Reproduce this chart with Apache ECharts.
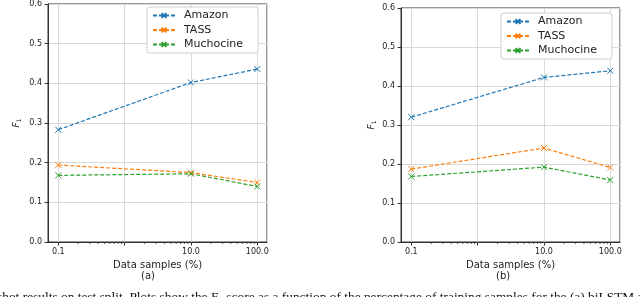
<!DOCTYPE html>
<html><head><meta charset="utf-8">
<script src="https://cdn.jsdelivr.net/npm/echarts@6/dist/echarts.min.js"></script>
<style>html,body{margin:0;padding:0;background:#fff}#c{width:640px;height:297px}</style>
</head><body><div id="c"></div>
<script>
const samples = [0.1, 10, 100];
const seriesNames = ['Amazon', 'TASS', 'Muchocine'];
const amazonA = [0.283, 0.402, 0.436];
const tassA = [0.194, 0.175, 0.150];
const muchoA = [0.168, 0.172, 0.140];
const amazonB = [0.320, 0.422, 0.439];
const tassB = [0.187, 0.241, 0.191];
const muchoB = [0.168, 0.192, 0.159];
const yTicks = [0, 0.1, 0.2, 0.3, 0.4, 0.5, 0.6];
const minorX = [0.2,0.3,0.4,0.5,0.6,0.7,0.8,0.9,2,3,4,5,6,7,8,9,20,30,40,50,60,70,80,90];
const colors = ['#1f77b4', '#ff7f0e', '#2ca02c'];
const caption = 'shot results on test split. Plots show the F\u2081 score as a function of the percentage of training samples for the (a) biLSTM and (b) th';

const chart = echarts.init(document.getElementById('c'));
const xSym = 'path://M0,0L10,10M10,0L0,10';
const tickFont = {fontFamily: 'DejaVu Sans', fontSize: 8, color: '#222'};

function xAxis(i) {
  return {
    type: 'log', logBase: 10, gridIndex: i, min: 0.07, max: 140,
    axisLine: {show: true, lineStyle: {color: '#333', width: 1}},
    axisTick: {show: true, inside: false, length: 3.5, lineStyle: {color: '#333'}},
    splitLine: {show: true, lineStyle: {color: '#d9d9d9', width: 1}},
    showMinLabel: false, showMaxLabel: false,
    axisLabel: Object.assign({margin: 6, formatter: function (v) {
      if (Math.abs(v - 1) < 1e-6) return '';
      return (Math.round(v * 10) / 10).toFixed(1);
    }}, tickFont),
    name: 'Data samples (%)', nameLocation: 'middle', nameGap: 13,
    nameTextStyle: {fontFamily: 'DejaVu Sans', fontSize: 10, color: '#222'}
  };
}
function yAxis(i, gap) {
  return {
    type: 'value', gridIndex: i, min: 0, max: 0.6, interval: 0.1,
    axisLine: {show: true, lineStyle: {color: '#333', width: 1}},
    axisTick: {show: true, inside: false, length: 3.5, lineStyle: {color: '#333'}},
    splitLine: {show: true, lineStyle: {color: '#d9d9d9', width: 1}},
    axisLabel: Object.assign({margin: 6, formatter: v => v.toFixed(1)}, tickFont),
    name: '{i|F}{s|1}', nameLocation: 'middle', nameGap: gap, nameRotate: 90,
    nameTextStyle: {rich: {
      i: {fontFamily: 'DejaVu Sans', fontStyle: 'italic', fontSize: 9, color: '#222'},
      s: {fontFamily: 'DejaVu Sans', fontSize: 6, color: '#222', padding: [5, 0, 0, 0]}
    }}
  };
}
function lineSeries(name, data, ci, gi) {
  return {
    name: name, type: 'line', xAxisIndex: gi, yAxisIndex: gi,
    data: samples.map((s, k) => [s, data[k]]),
    symbol: xSym, symbolSize: 6,
    itemStyle: {color: colors[ci], borderColor: colors[ci], borderWidth: 1},
    lineStyle: {color: colors[ci], width: 1.2, type: [4, 2]},
    emphasis: {disabled: true}, z: 3, animation: false
  };
}
function minorSeries(gi) {
  return {
    type: 'custom', xAxisIndex: gi, yAxisIndex: gi, clip: false, silent: true, animation: false,
    data: minorX.map(v => [v, 0]),
    renderItem: function (params, api) {
      const p = api.coord([api.value(0), 0]);
      return {type: 'line', shape: {x1: p[0], y1: p[1], x2: p[0], y2: p[1] + 2},
              style: {stroke: '#333', lineWidth: 0.8}};
    }
  };
}
function legend(left, top) {
  return {
    data: seriesNames, orient: 'vertical', left: left, top: top,
    backgroundColor: '#fff', borderColor: '#d0d0d0', borderWidth: 1, borderRadius: 3,
    padding: [3, 15, 3, 5], itemGap: 3.5, itemWidth: 22, itemHeight: 6,
    selectedMode: false,
    textStyle: {fontFamily: 'DejaVu Sans', fontSize: 11, color: '#222', padding: [0, 0, 0, 4]}
  };
}

chart.setOption({
  animation: false,
  grid: [
    {left: 48, right: 373, top: 3, bottom: 55, show: true, borderColor: '#333', borderWidth: 1, backgroundColor: 'transparent'},
    {left: 401, right: 20, top: 8, bottom: 55, show: true, borderColor: '#333', borderWidth: 1, backgroundColor: 'transparent'}
  ],
  xAxis: [xAxis(0), xAxis(1)],
  yAxis: [yAxis(0, 26), yAxis(1, 24)],
  legend: [legend(147, 7), legend(501, 13)],
  series: [
    lineSeries(seriesNames[0], amazonA, 0, 0),
    lineSeries(seriesNames[1], tassA, 1, 0),
    lineSeries(seriesNames[2], muchoA, 2, 0),
    lineSeries(seriesNames[0], amazonB, 0, 1),
    lineSeries(seriesNames[1], tassB, 1, 1),
    lineSeries(seriesNames[2], muchoB, 2, 1),
    minorSeries(0), minorSeries(1)
  ],
  graphic: [
    {type: 'text', left: 141, top: 271, style: {text: '(a)', font: '10px "DejaVu Sans"', fill: '#222'}},
    {type: 'text', left: 496, top: 271, style: {text: '(b)', font: '10px "DejaVu Sans"', fill: '#222'}},
    {type: 'text', left: -3, top: 291, style: {text: caption, font: '13.4px "Liberation Serif"', fill: '#111'}}
  ]
});
</script></body></html>
